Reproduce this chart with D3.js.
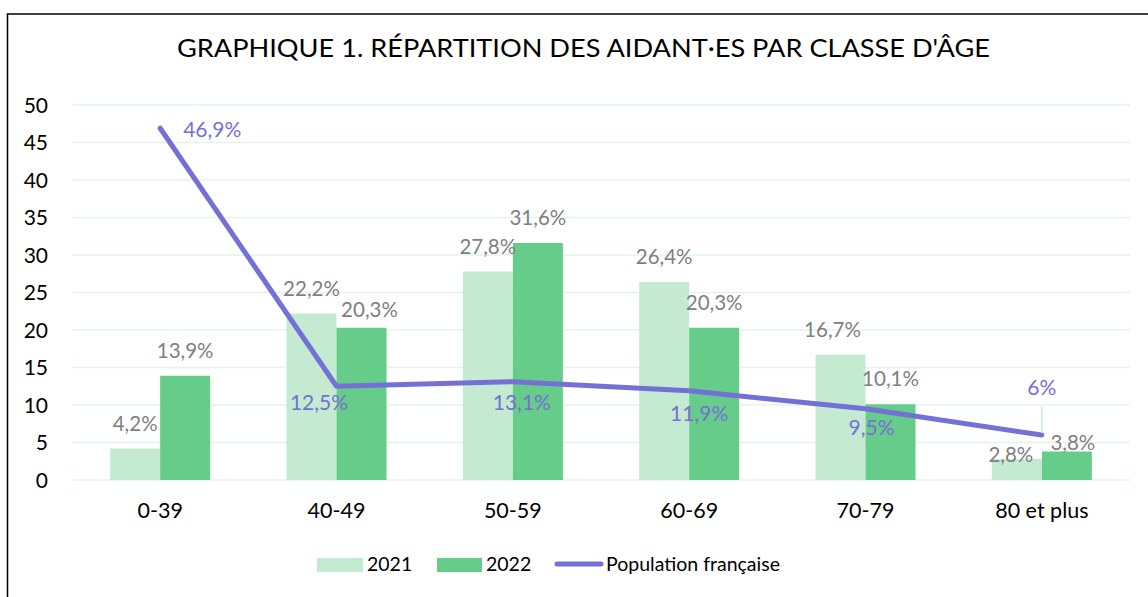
<!DOCTYPE html>
<html>
<head>
<meta charset="utf-8">
<script src="https://cdn.jsdelivr.net/npm/d3@7"></script>
<style>
  html, body { margin: 0; padding: 0; background: #fff; }
  svg { display: block; font-family: Lato, "Open Sans", sans-serif; }
</style>
</head>
<body>
<svg id="chart" width="1148" height="597"></svg>
<script>
const title = "GRAPHIQUE 1. RÉPARTITION DES AIDANT·ES PAR CLASSE D'ÂGE";
const categories = ["0-39", "40-49", "50-59", "60-69", "70-79", "80 et plus"];
const values2021 = [4.2, 22.2, 27.8, 26.4, 16.7, 2.8];
const values2022 = [13.9, 20.3, 31.6, 20.3, 10.1, 3.8];
const populationFr = [46.9, 12.5, 13.1, 11.9, 9.5, 6];
const seriesNames = ["2021", "2022", "Population française"];
const yTicks = [0, 5, 10, 15, 20, 25, 30, 35, 40, 45, 50];

const colors = { c2021: "#c4ebd1", c2022: "#66cc8a", line: "#7570d5", grid: "#e3f4e8", label: "#7f7f7f" };

// manual label nudges (layout only)
const nudge2021 = [[0,0],[0,0],[0,0],[0,0],[-8,0],[-6,21]];
const nudge2022 = [[0,0],[8,7],[0,0],[0,0],[0,0],[6,16.5]];
const lineLabelPos = [
  {dx: 23, dy: 9, anchor: "start"},
  {dx: -17.5, dy: 24, anchor: "middle"},
  {dx: 9, dy: 28, anchor: "middle"},
  {dx: 10, dy: 30, anchor: "middle"},
  {dx: 6, dy: 26, anchor: "middle"},
  {dx: 0, dy: -40, anchor: "middle", leader: true}
];

const svg = d3.select("#chart");
const fmt = v => String(v).replace(".", ",") + "%";

// outer border
svg.append("rect").attr("x", 7.5).attr("y", 14).attr("width", 1300).attr("height", 800)
  .attr("fill", "none").attr("stroke", "#000").attr("stroke-width", 1.5);

// title
svg.append("text").attr("x", 583.5).attr("y", 57).attr("text-anchor", "middle")
  .attr("font-size", 25).attr("fill", "#000")
  .attr("textLength", 813).attr("lengthAdjust", "spacingAndGlyphs")
  .text(title);

const x0 = d3.scaleBand().domain(categories).range([72, 1130]).paddingInner(0).paddingOuter(0);
const x1 = d3.scaleBand().domain(["2021", "2022"]).range([0, x0.bandwidth()]).paddingInner(0).paddingOuter(0.763);
const y = d3.scaleLinear().domain([0, 50]).range([480, 105]);

// gridlines
svg.append("g").selectAll("line").data(yTicks).join("line")
  .attr("x1", 72).attr("x2", 1130)
  .attr("y1", d => y(d)).attr("y2", d => y(d))
  .attr("stroke", colors.grid).attr("stroke-width", 1.5);

// y axis labels
const yAxis = d3.axisLeft(y).tickValues(yTicks).tickSize(0).tickPadding(0);
const gy = svg.append("g").attr("transform", "translate(48,0)").call(yAxis);
gy.select(".domain").remove();
gy.selectAll("text").attr("font-size", 21).attr("fill", "#000")
  .attr("font-family", "Lato, 'Open Sans', sans-serif").attr("dy", "0.35em");

// x axis labels
const xAxis = d3.axisBottom(x0).tickSize(0).tickPadding(0);
const gx = svg.append("g").attr("transform", "translate(0,500)").call(xAxis);
gx.select(".domain").remove();
gx.selectAll("text").attr("font-size", 21.5).attr("fill", "#000")
  .attr("font-family", "Lato, 'Open Sans', sans-serif").attr("dy", "0.85em");

// bars
const rows = categories.map((c, i) => ({ c, i, v1: values2021[i], v2: values2022[i] }));
const barW = x1.bandwidth();
svg.append("g").selectAll("rect").data(rows).join("rect")
  .attr("x", d => x0(d.c) + x1("2021")).attr("y", d => y(d.v1))
  .attr("width", barW).attr("height", d => y(0) - y(d.v1)).attr("fill", colors.c2021);
svg.append("g").selectAll("rect").data(rows).join("rect")
  .attr("x", d => x0(d.c) + x1("2022")).attr("y", d => y(d.v2))
  .attr("width", barW).attr("height", d => y(0) - y(d.v2)).attr("fill", colors.c2022);

// bar labels
const lblSize = 20.5;
svg.append("g").selectAll("text").data(rows).join("text")
  .attr("x", d => x0(d.c) + x1("2021") + barW / 2 + nudge2021[d.i][0])
  .attr("y", d => y(d.v1) - 18 + nudge2021[d.i][1])
  .attr("text-anchor", "middle").attr("font-size", lblSize).attr("fill", colors.label)
  .text(d => fmt(d.v1));
svg.append("g").selectAll("text").data(rows).join("text")
  .attr("x", d => x0(d.c) + x1("2022") + barW / 2 + nudge2022[d.i][0])
  .attr("y", d => y(d.v2) - 18 + nudge2022[d.i][1])
  .attr("text-anchor", "middle").attr("font-size", lblSize).attr("fill", colors.label)
  .text(d => fmt(d.v2));

// line
const cx = c => x0(c) + x0.bandwidth() / 2;
const linePts = categories.map((c, i) => ({ c, i, v: populationFr[i] }));
svg.append("path").datum(linePts)
  .attr("d", d3.line().x(d => cx(d.c)).y(d => y(d.v)))
  .attr("fill", "none").attr("stroke", colors.line).attr("stroke-width", 5)
  .attr("stroke-linecap", "round").attr("stroke-linejoin", "round");

// leader line for last label
linePts.filter(d => lineLabelPos[d.i].leader).forEach(d => {
  svg.append("line").attr("x1", cx(d.c)).attr("x2", cx(d.c))
    .attr("y1", y(d.v) + lineLabelPos[d.i].dy + 12).attr("y2", y(d.v) - 2)
    .attr("stroke", "#c4ebd1").attr("stroke-width", 1.5);
});

// line labels
svg.append("g").selectAll("text").data(linePts).join("text")
  .attr("x", d => cx(d.c) + lineLabelPos[d.i].dx)
  .attr("y", d => y(d.v) + lineLabelPos[d.i].dy)
  .attr("text-anchor", d => lineLabelPos[d.i].anchor)
  .attr("font-size", 21).attr("fill", colors.line)
  .text(d => fmt(d.v));

// legend
const lg = svg.append("g");
const legSize = 19.5;
lg.append("rect").attr("x", 317).attr("y", 558).attr("width", 46).attr("height", 14).attr("fill", colors.c2021);
lg.append("text").attr("x", 367).attr("y", 571).attr("font-size", legSize).attr("fill", "#000").text(seriesNames[0]);
lg.append("rect").attr("x", 437).attr("y", 558).attr("width", 45).attr("height", 14).attr("fill", colors.c2022);
lg.append("text").attr("x", 486).attr("y", 571).attr("font-size", legSize).attr("fill", "#000").text(seriesNames[1]);
lg.append("line").attr("x1", 557).attr("x2", 601).attr("y1", 564).attr("y2", 564)
  .attr("stroke", colors.line).attr("stroke-width", 5).attr("stroke-linecap", "round");
lg.append("text").attr("x", 606).attr("y", 571).attr("font-size", legSize).attr("fill", "#000").text(seriesNames[2]);
</script>
</body>
</html>
